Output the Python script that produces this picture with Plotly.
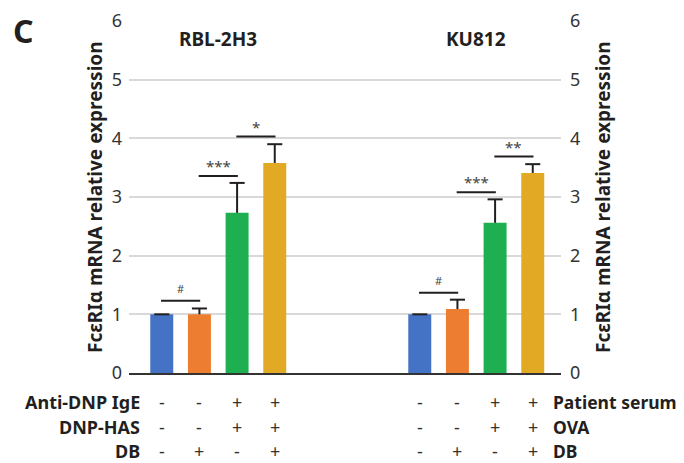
import plotly.graph_objects as go

# ---- data ----
conditions = ["ctrl", "DB", "stim", "stim+DB"]
colors = ["#4472C4", "#ED7D31", "#1EB050", "#E2AA24"]
rbl_values = [1.00, 1.00, 2.73, 3.58]
rbl_errors = [0.00, 0.10, 0.51, 0.32]
ku_values = [1.00, 1.09, 2.56, 3.41]
ku_errors = [0.00, 0.16, 0.40, 0.15]
group_names = ["RBL-2H3", "KU812"]
# significance: (bar_i, bar_j, height, label)
rbl_sig = [(0, 1, 1.23, "#"), (1, 2, 3.36, "***"), (2, 3, 4.03, "*")]
ku_sig = [(0, 1, 1.37, "#"), (1, 2, 3.08, "***"), (2, 3, 3.69, "**")]
left_rows = ["Anti-DNP IgE", "DNP-HAS", "DB"]
right_rows = ["Patient serum", "OVA", "DB"]
rbl_table = [["-", "-", "+", "+"], ["-", "-", "+", "+"], ["-", "+", "-", "+"]]
ku_table = [["-", "-", "+", "+"], ["-", "-", "+", "+"], ["-", "+", "-", "+"]]
y_title = "FcεRIα mRNA relative expression"

FONT = "Noto Sans"
DARK = "#231f20"

offset2 = 6.85
x1 = [float(i) for i in range(4)]
x2 = [i + offset2 for i in x1]

fig = go.Figure()
for xs, vals in [(x1, rbl_values), (x2, ku_values)]:
    fig.add_trace(go.Bar(x=xs, y=vals, marker=dict(color=colors, line=dict(width=0)),
                         width=0.61, showlegend=False, hoverinfo="skip"))

# error bars (upper only) as lines
ex, ey = [], []
cap = 0.2
for xs, vals, errs in [(x1, rbl_values, rbl_errors), (x2, ku_values, ku_errors)]:
    for x, v, e in zip(xs, vals, errs):
        ex += [x, x, None, x - cap, x + cap, None]
        ey += [v, v + e, None, v + e, v + e, None]
fig.add_trace(go.Scatter(x=ex, y=ey, mode="lines", line=dict(color=DARK, width=2),
                         showlegend=False, hoverinfo="skip", cliponaxis=False))

# significance lines
sx, sy = [], []
annotations = []
for xs, sigs in [(x1, rbl_sig), (x2, ku_sig)]:
    for i, j, h, lab in sigs:
        sx += [xs[i] - 0.02, xs[j] + 0.02, None]
        sy += [h, h, None]
        big = lab != "#"
        annotations.append(dict(x=(xs[i] + xs[j]) / 2, y=h, xref="x", yref="y", text=lab,
                                showarrow=False, xanchor="center", yanchor="middle",
                                yshift=10 if big else 12,
                                font=dict(family=FONT, size=15 if big else 11, color="#444")))
fig.add_trace(go.Scatter(x=sx, y=sy, mode="lines", line=dict(color=DARK, width=2),
                         showlegend=False, hoverinfo="skip"))

# group titles
for xs, name in [(x1, group_names[0]), (x2, group_names[1])]:
    annotations.append(dict(x=sum(xs) / 4, y=0.949, xref="x", yref="paper", text="<b>%s</b>" % name,
                            showarrow=False, xanchor="center", yanchor="middle",
                            font=dict(family=FONT, size=19, color=DARK)))

# table rows
row_y = [-0.0824, -0.153, -0.2205]
for r in range(3):
    annotations.append(dict(x=0, y=row_y[r], xref="paper", yref="paper", xanchor="right",
                            yanchor="middle", xshift=13,
                            text="<b>%s</b>" % left_rows[r], showarrow=False,
                            font=dict(family=FONT, size=18, color=DARK)))
    annotations.append(dict(x=1, y=row_y[r], xref="paper", yref="paper", xanchor="left",
                            yanchor="middle", xshift=-10,
                            text="<b>%s</b>" % right_rows[r], showarrow=False,
                            font=dict(family=FONT, size=17.5, color=DARK)))
    for xs, tab in [(x1, rbl_table), (x2, ku_table)]:
        for x, s in zip(xs, tab[r]):
            annotations.append(dict(x=x, y=row_y[r], xref="x", yref="paper", text=s, showarrow=False,
                                    xanchor="center", yanchor="middle",
                                    font=dict(family=FONT, size=18, color="#333")))

# y titles
annotations.append(dict(x=0, y=0.5, xref="paper", yref="paper", xshift=-34, text="<b>%s</b>" % y_title,
                        xanchor="center", yanchor="middle",
                        textangle=-90, showarrow=False, font=dict(family=FONT, size=19, color=DARK)))
annotations.append(dict(x=1, y=0.5, xref="paper", yref="paper", xshift=42, text="<b>%s</b>" % y_title,
                        xanchor="center", yanchor="middle",
                        textangle=-90, showarrow=False, font=dict(family=FONT, size=19, color=DARK)))
# panel letter
annotations.append(dict(x=0, y=1, xref="paper", yref="paper", xshift=-118, yshift=-9, xanchor="left",
                        yanchor="middle", text="<b>C</b>", showarrow=False,
                        font=dict(family=FONT, size=32, color=DARK)))

# invisible trace for right axis
fig.add_trace(go.Scatter(x=[x1[0]], y=[0], yaxis="y2", mode="markers", marker=dict(opacity=0),
                         showlegend=False, hoverinfo="skip"))

# page body has an 8px margin: offset the figure margins to compensate
fig.update_layout(
    width=684, height=463,
    margin=dict(l=121, r=131, t=13, b=98, autoexpand=False),
    paper_bgcolor="white", plot_bgcolor="white",
    barmode="overlay",
    xaxis=dict(range=[-0.87, 10.6], showticklabels=False, showgrid=False, zeroline=False,
               showline=True, linecolor="#333", linewidth=2, ticks="", automargin=False),
    yaxis=dict(range=[0, 6], dtick=1, showgrid=True, gridcolor="#d9d9d9", gridwidth=1.5,
               zeroline=False, showline=False, ticks="", ticklabelstandoff=6, automargin=False,
               tickfont=dict(family=FONT, size=18, color="#333")),
    yaxis2=dict(range=[0, 6], dtick=1, overlaying="y", side="right", showgrid=False, zeroline=False,
                showline=False, ticks="", ticklabelstandoff=8, automargin=False,
                tickfont=dict(family=FONT, size=18, color="#333")),
    annotations=annotations,
)

fig.write_html("out.html")
